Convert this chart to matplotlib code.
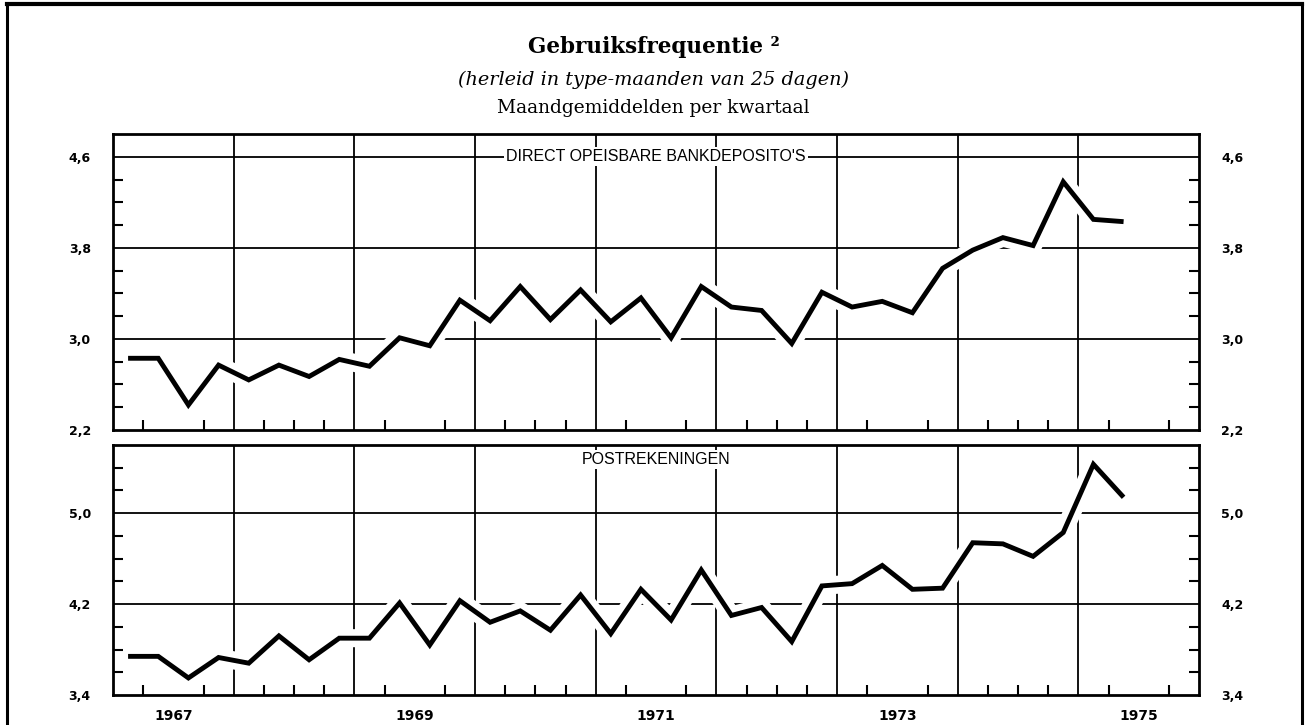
import numpy as np
import matplotlib
matplotlib.use("Agg")
import matplotlib.pyplot as plt
from matplotlib.lines import Line2D
from matplotlib.ticker import FixedLocator, FixedFormatter, NullFormatter

# Quarterly series (monthly averages per quarter), 1967 Q1 - 1975 Q2
start_year = 1967
end_year = 1976
label_years = [1967, 1969, 1971, 1973, 1975]

bank_deposits = [2.83, 2.83, 2.42, 2.77, 2.64, 2.77, 2.67, 2.82, 2.76, 3.01, 2.94,
                 3.34, 3.16, 3.46, 3.17, 3.43, 3.15, 3.36, 3.01, 3.46, 3.28, 3.25,
                 2.96, 3.41, 3.28, 3.33, 3.23, 3.62, 3.78, 3.89, 3.82, 4.38, 4.05, 4.03]
postal_accounts = [3.74, 3.74, 3.55, 3.73, 3.68, 3.92, 3.71, 3.90, 3.90, 4.21, 3.84,
                   4.23, 4.04, 4.14, 3.97, 4.28, 3.94, 4.33, 4.06, 4.50, 4.10, 4.17,
                   3.87, 4.36, 4.38, 4.54, 4.33, 4.34, 4.74, 4.73, 4.62, 4.83, 5.43, 5.14]

bank_title = "DIRECT OPEISBARE BANKDEPOSITO'S"
postal_title = "POSTREKENINGEN"
bank_yticks = [2.2, 3.0, 3.8, 4.6]
postal_yticks = [3.4, 4.2, 5.0]
bank_ylim = (2.2, 4.8)
postal_ylim = (3.4, 5.6)

title = "Gebruiksfrequentie ²"
subtitle = "(herleid in type-maanden van 25 dagen)"
subtitle2 = "Maandgemiddelden per kwartaal"

W, H = 1307, 725
fig = plt.figure(figsize=(W / 100, H / 100), dpi=100)
fig.patch.set_facecolor("white")


def fmt(v):
    return f"{v:.1f}".replace(".", ",")


def make_panel(rect, values, ylim, yticks, label, label_y, show_years):
    ax = fig.add_axes(rect)
    ax.set_facecolor("white")
    x = start_year + (np.arange(len(values)) + 0.5) / 4.0
    ax.set_xlim(start_year, end_year)
    ax.set_ylim(*ylim)

    # grid: year boundaries and labelled value levels
    for yr in range(start_year + 1, end_year):
        ax.axvline(yr, color="black", lw=1.3, zorder=1)
    for v in yticks:
        if ylim[0] < v < ylim[1]:
            ax.axhline(v, color="black", lw=1.3, zorder=1)

    # white band keeps the grid clear where the curve crosses it
    ax.plot(x, values, color="white", lw=13, solid_capstyle="butt",
            solid_joinstyle="round", zorder=1.5)
    ax.plot(x, values, color="black", lw=3.5, solid_capstyle="butt",
            solid_joinstyle="miter", zorder=3)

    for s in ax.spines.values():
        s.set_linewidth(2)
        s.set_zorder(4)

    # y axis: labels on both sides, minor ticks every 0.2
    ax.yaxis.set_major_locator(FixedLocator(yticks))
    ax.yaxis.set_major_formatter(FixedFormatter([fmt(v) for v in yticks]))
    minors = [round(v, 1) for v in np.arange(ylim[0] + 0.2, ylim[1] - 0.01, 0.2)
              if all(abs(v - t) > 1e-6 for t in yticks)]
    ax.yaxis.set_minor_locator(FixedLocator(minors))
    ax.tick_params(axis="y", which="major", length=0, pad=16, labelsize=9,
                   left=True, right=True, labelleft=True, labelright=True)
    ax.tick_params(axis="y", which="minor", direction="in", length=7, width=1.5,
                   left=True, right=True)

    # x axis: quarter ticks, year labels centred in the year
    quarters = [start_year + k / 4.0 for k in range((end_year - start_year) * 4)
                if k % 4 != 0]
    ax.xaxis.set_minor_locator(FixedLocator(quarters))
    ax.xaxis.set_minor_formatter(NullFormatter())
    ax.xaxis.set_major_locator(FixedLocator([y + 0.5 for y in label_years]))
    if show_years:
        ax.xaxis.set_major_formatter(FixedFormatter([str(y) for y in label_years]))
    else:
        ax.xaxis.set_major_formatter(NullFormatter())
    ax.tick_params(axis="x", which="major", length=0, pad=10, labelsize=10)
    ax.tick_params(axis="x", which="minor", direction="in", length=7, width=1.5,
                   bottom=True, top=False)

    ax.text(0.5, label_y, label, transform=ax.get_yaxis_transform(),
            ha="center", va="center", family="Liberation Sans", size=11.5,
            zorder=5,
            bbox=dict(facecolor="white", edgecolor="none", pad=1.5))
    return ax


left = 113 / W
width = (1199 - 113) / W
ax_top = make_panel([left, 1 - 430 / H, width, (430 - 134) / H],
                    bank_deposits, bank_ylim, bank_yticks, bank_title, 4.6, False)
ax_bot = make_panel([left, 1 - 695 / H, width, (695 - 445) / H],
                    postal_accounts, postal_ylim, postal_yticks, postal_title, 5.47, True)

for lab in ax_top.get_yticklabels() + ax_bot.get_yticklabels() + ax_bot.get_xticklabels():
    lab.set_family("DejaVu Sans")
    lab.set_weight("bold")

# headings
fig.text(0.5, 1 - 53 / H, title, ha="center", va="baseline",
         family="DejaVu Serif", weight="bold", size=15.5)
fig.text(0.5, 1 - 85 / H, subtitle, ha="center", va="baseline",
         family="DejaVu Serif", style="italic", size=13.9)
fig.text(0.5, 1 - 113 / H, subtitle2, ha="center", va="baseline",
         family="DejaVu Serif", size=13.4)

# page frame
fig.add_artist(Line2D([7 / W, 7 / W], [0, 1 - 4 / H], transform=fig.transFigure,
                      color="black", lw=2.2))
fig.add_artist(Line2D([1302 / W, 1302 / W], [0, 1 - 4 / H], transform=fig.transFigure,
                      color="black", lw=2.2))
fig.add_artist(Line2D([7 / W, 1302 / W], [1 - 4 / H, 1 - 4 / H], transform=fig.transFigure,
                      color="black", lw=3))

fig.savefig("out.png", dpi=100, facecolor="white")
